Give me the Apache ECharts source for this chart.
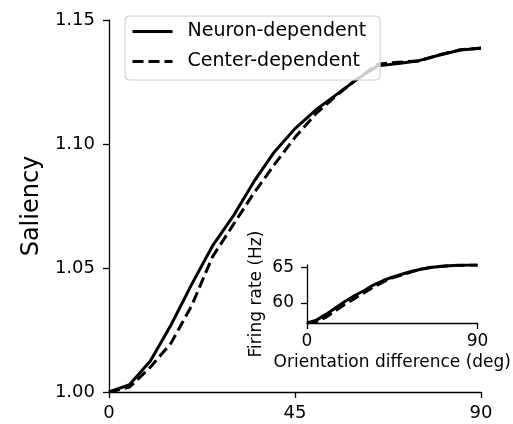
<!DOCTYPE html>
<html>
<head>
<meta charset="utf-8">
<script src="https://cdn.jsdelivr.net/npm/echarts@6/dist/echarts.min.js"></script>
<style>html,body{margin:0;padding:0;background:#fff}#c{width:513px;height:424px}</style>
</head>
<body>
<div id="c"></div>
<script>
const xDeg = [0,5,10,15,20,25,30,35,40,45,50,55,60,65,70,75,80,85,90];
const saliencyNeuron = [1.000,1.003,1.0125,1.027,1.0434,1.0588,1.0708,1.0847,1.0968,1.1062,1.1137,1.1199,1.1261,1.1315,1.1325,1.1336,1.1359,1.1379,1.1386];
const saliencyCenter = [1.000,1.002,1.0100,1.0197,1.0348,1.0544,1.0673,1.0801,1.0917,1.1027,1.1121,1.1195,1.1262,1.1322,1.1330,1.1335,1.1360,1.1380,1.1387];
const rateNeuron = [57.2,57.6,58.4,59.3,60.2,61.0,61.7,62.5,63.1,63.6,64.0,64.4,64.7,64.95,65.1,65.2,65.25,65.3,65.3];
const rateCenter = [57.2,57.4,58.0,58.9,59.8,60.6,61.4,62.2,62.9,63.5,63.9,64.35,64.7,64.95,65.1,65.2,65.25,65.3,65.3];
const mainXTicks = [0,45,90];
const mainYTicks = [1.00,1.05,1.10,1.15];
const insetXTicks = [0,90];
const insetYTicks = [60,65];
const seriesNames = ['Neuron-dependent','Center-dependent'];

const pairs = (xs, ys) => xs.map((x, i) => [x, ys[i]]);
const FONT = 'DejaVu Sans';
const axisLineStyle = {color:'#000', width:1.3};

const chart = echarts.init(document.getElementById('c'), null, {renderer:'canvas'});
chart.setOption({
  animation:false,
  backgroundColor:'#fff',
  grid:[
    {left:109, top:20, width:372, height:372},
    {left:307, top:265, width:175, height:58}
  ],
  legend:{
    data:seriesNames,
    orient:'vertical', left:125, top:16,
    padding:[6,14,9,6], itemGap:11, itemWidth:40, itemHeight:19,
    backgroundColor:'rgba(255,255,255,0.8)', borderColor:'#cccccc', borderWidth:1, borderRadius:4,
    itemStyle:{opacity:0},
    lineStyle:{width:3},
    textStyle:{fontFamily:FONT, fontSize:19, color:'#000', padding:[0,0,0,10]},
    z:10
  },
  xAxis:[
    {gridIndex:0, type:'value', min:0, max:90,
     axisLine:{show:true, lineStyle:axisLineStyle}, splitLine:{show:false},
     axisTick:{show:true, length:6, customValues:mainXTicks, lineStyle:axisLineStyle},
     axisLabel:{customValues:mainXTicks, margin:12, fontFamily:FONT, fontSize:18, color:'#000'}},
    {gridIndex:1, type:'value', min:0, max:90,
     name:'Orientation difference (deg)', nameLocation:'middle', nameGap:31,
     nameTextStyle:{fontFamily:FONT, fontSize:17, color:'#000'},
     axisLine:{show:true, lineStyle:axisLineStyle}, splitLine:{show:false},
     axisTick:{show:true, length:6, customValues:insetXTicks, lineStyle:axisLineStyle},
     axisLabel:{customValues:insetXTicks, margin:10, fontFamily:FONT, fontSize:17, color:'#000'}}
  ],
  yAxis:[
    {gridIndex:0, type:'value', min:1.0, max:1.15,
     name:'Saliency', nameLocation:'middle', nameGap:65, nameRotate:90,
     nameTextStyle:{fontFamily:FONT, fontSize:24, color:'#000'},
     axisLine:{show:true, lineStyle:axisLineStyle}, splitLine:{show:false},
     axisTick:{show:true, length:6, customValues:mainYTicks, lineStyle:axisLineStyle},
     axisLabel:{customValues:mainYTicks, margin:14, fontFamily:FONT, fontSize:18, color:'#000',
                formatter:v => v.toFixed(2)}},
    {gridIndex:1, type:'value', min:57.2, max:65.3,
     name:'Firing rate (Hz)', nameLocation:'middle', nameGap:42, nameRotate:90,
     nameTextStyle:{fontFamily:FONT, fontSize:17, color:'#000'},
     axisLine:{show:true, lineStyle:axisLineStyle}, splitLine:{show:false},
     axisTick:{show:true, length:6, customValues:insetYTicks, lineStyle:axisLineStyle},
     axisLabel:{customValues:insetYTicks, margin:13, fontFamily:FONT, fontSize:17, color:'#000'}}
  ],
  series:[
    {name:seriesNames[0], type:'line', xAxisIndex:0, yAxisIndex:0, data:pairs(xDeg, saliencyNeuron),
     symbol:'none', lineStyle:{color:'#000', width:3, type:'solid'}, itemStyle:{color:'#000'}, z:3},
    {name:seriesNames[1], type:'line', xAxisIndex:0, yAxisIndex:0, data:pairs(xDeg, saliencyCenter),
     symbol:'none', lineStyle:{color:'#000', width:3, type:[11,5]}, itemStyle:{color:'#000'}, z:3},
    {name:'inset-neuron', type:'line', xAxisIndex:1, yAxisIndex:1, data:pairs(xDeg, rateNeuron),
     symbol:'none', lineStyle:{color:'#000', width:3, type:'solid'}, itemStyle:{color:'#000'}, z:3},
    {name:'inset-center', type:'line', xAxisIndex:1, yAxisIndex:1, data:pairs(xDeg, rateCenter),
     symbol:'none', lineStyle:{color:'#000', width:3, type:[11,5]}, itemStyle:{color:'#000'}, z:3}
  ]
});
</script>
</body>
</html>
